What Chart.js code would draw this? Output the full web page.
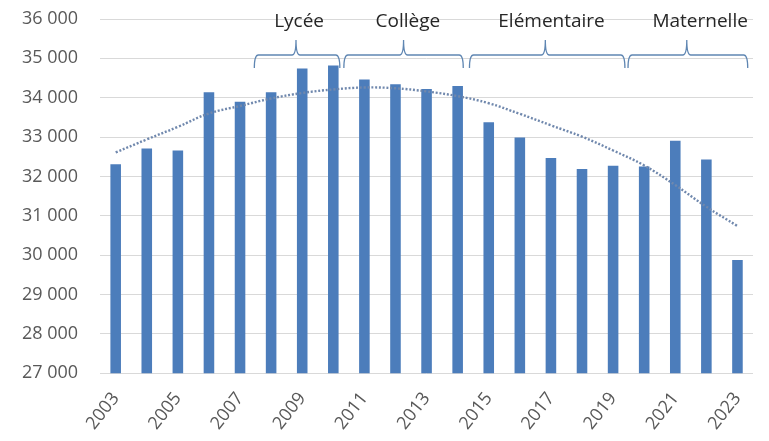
<!DOCTYPE html>
<html>
<head>
<meta charset="utf-8">
<script src="https://cdn.jsdelivr.net/npm/chart.js@4"></script>
<style>
  html, body { margin: 0; padding: 0; background: #fff; }
  #wrap { width: 769px; height: 441px; }
</style>
</head>
<body>
<div id="wrap"><canvas id="effectifs"></canvas></div>
<script>
// Donnees
const years = ['2003','2004','2005','2006','2007','2008','2009','2010','2011','2012','2013',
               '2014','2015','2016','2017','2018','2019','2020','2021','2022','2023'];
const effectifs = [32310, 32710, 32660, 34140, 33900, 34140, 34740, 34820, 34460, 34340, 34220,
                   34300, 33380, 32990, 32470, 32190, 32270, 32250, 32910, 32430, 29880];
// courbe de tendance (pointillés), relevée point par point
const tendance = [32610, 32940, 33260, 33600, 33790, 33980, 34120, 34210, 34260, 34240, 34160,
                  34040, 33860, 33590, 33300, 33010, 32660, 32280, 31780, 31230, 30740];

// accolades au dessus des barres (bornes en annees)
const groupLabels = ['Lycée', 'Collège', 'Elémentaire', 'Maternelle'];
const groupStart  = [2007.46, 2010.34, 2014.38, 2019.48];
const groupMiddle = [2008.8, 2012.26, 2016.82, 2021.37];
const groupEnd    = [2010.21, 2014.18, 2019.38, 2023.33];
const groupText   = [2008.9, 2012.4, 2017.02, 2021.8];

const yMin = 27000, yMax = 36000, yStep = 1000;

function formatFr(v) {
  return String(v).replace(/\B(?=(\d{3})+(?!\d))/g, ' ');
}

// plugin pour les accolades + titres
const bracketsPlugin = {
  id: 'brackets',
  afterDatasetsDraw(chart) {
    const ctx = chart.ctx;
    const x = chart.scales.x;
    const toPx = yr => x.getPixelForValue(yr - 2003);
    const yLine = 55, yTip = 40, yEnd = 68, r = 4;

    ctx.save();
    ctx.strokeStyle = '#5f86b2';
    ctx.lineWidth = 1.3;
    groupLabels.forEach((lab, i) => {
      const x1 = toPx(groupStart[i]);
      const x2 = toPx(groupEnd[i]);
      const xm = toPx(groupMiddle[i]);
      ctx.beginPath();
      ctx.moveTo(x1, yEnd);
      ctx.quadraticCurveTo(x1, yLine, x1 + r, yLine);
      ctx.lineTo(xm - r, yLine);
      ctx.quadraticCurveTo(xm, yLine, xm, yTip);
      ctx.quadraticCurveTo(xm, yLine, xm + r, yLine);
      ctx.lineTo(x2 - r, yLine);
      ctx.quadraticCurveTo(x2, yLine, x2, yEnd);
      ctx.stroke();
    });

    ctx.fillStyle = '#262626';
    ctx.font = '19px "Open Sans"';
    ctx.textAlign = 'center';
    ctx.textBaseline = 'middle';
    groupLabels.forEach((lab, i) => {
      ctx.fillText(lab, toPx(groupText[i]), 22);
    });
    ctx.restore();
  }
};

const ctx = document.getElementById('effectifs').getContext('2d');
new Chart(ctx, {
  data: {
    labels: years,
    datasets: [
      {
        type: 'line',
        data: tendance,
        borderColor: '#7088ad',
        borderWidth: 2.4,
        borderDash: [2, 1.8],
        pointRadius: 0,
        tension: 0.4,
        fill: false,
        order: 0
      },
      {
        type: 'bar',
        data: effectifs,
        backgroundColor: '#4c7dbb',
        barPercentage: 0.34,
        categoryPercentage: 1,
        order: 1
      }
    ]
  },
  options: {
    responsive: true,
    maintainAspectRatio: false,
    animation: false,
    layout: { padding: { top: 0, right: 16, left: 0, bottom: 0 } },
    plugins: {
      legend: { display: false },
      tooltip: { enabled: false }
    },
    scales: {
      x: {
        grid: { display: false },
        border: { display: false },
        ticks: {
          color: '#595959',
          font: { family: 'Open Sans', size: 18 },
          maxRotation: 52,
          minRotation: 52,
          autoSkip: false,
          padding: 7,
          callback: function(val, i) { return i % 2 === 0 ? years[i] : ''; }
        }
      },
      y: {
        min: yMin,
        max: yMax,
        grid: { color: '#d9d9d9', drawTicks: false },
        border: { display: false },
        ticks: {
          stepSize: yStep,
          color: '#595959',
          font: { family: 'Open Sans', size: 18 },
          padding: 22,
          callback: v => formatFr(v)
        },
        // le padding des ticks s'ajoute sinon en haut du graphe
        afterFit: scale => {
          scale.paddingTop = 19;
          scale.paddingBottom = 10;
        }
      }
    }
  },
  plugins: [bracketsPlugin]
});
</script>
</body>
</html>
